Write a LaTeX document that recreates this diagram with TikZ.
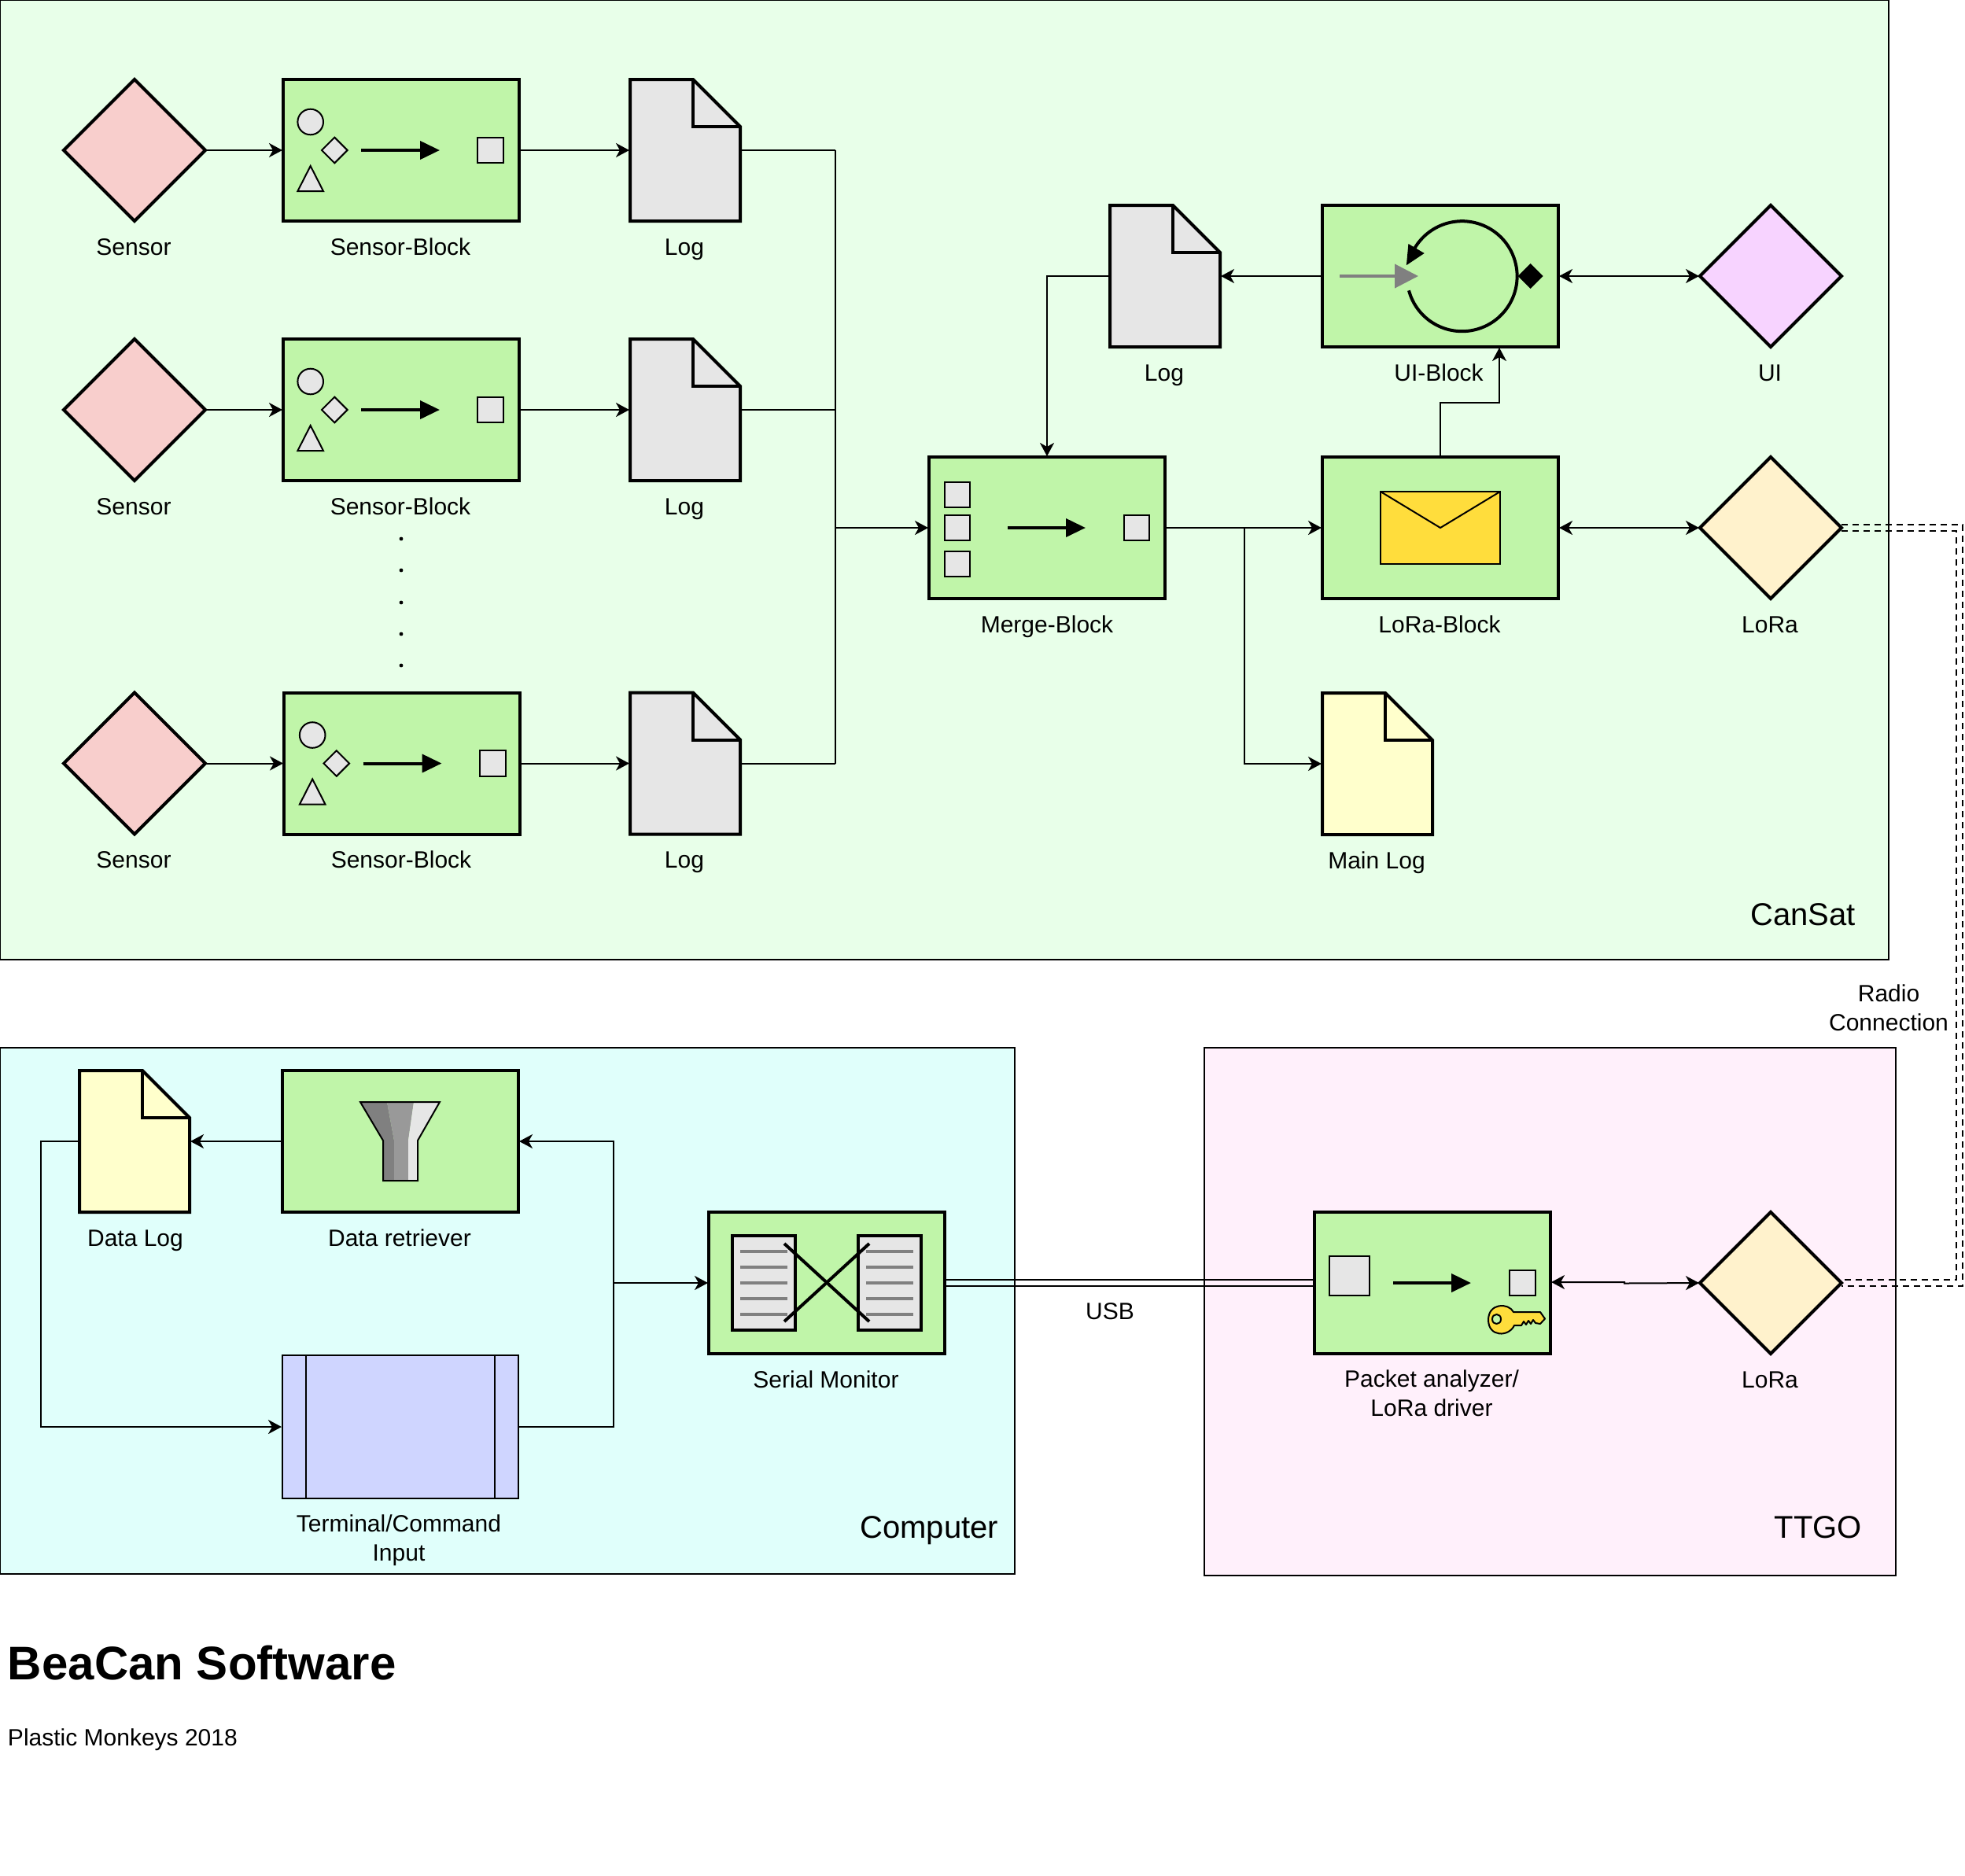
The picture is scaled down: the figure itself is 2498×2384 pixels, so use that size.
\documentclass[tikz,border=0pt]{standalone}
\usepackage{fontspec}
\setmainfont{Liberation Sans}
\usetikzlibrary{arrows.meta,shapes.geometric,calc}

\definecolor{canSatBack}{HTML}{E8FFE9}
\definecolor{computerBack}{HTML}{E0FFFB}
\definecolor{ttgoBack}{HTML}{FFF0FB}
\definecolor{blockGreen}{HTML}{C0F5A9}
\definecolor{sensorRed}{HTML}{F8CECC}
\definecolor{uiViolet}{HTML}{F7D3FF}
\definecolor{loraCream}{HTML}{FFF2CC}
\definecolor{iconGray}{HTML}{E6E6E6}
\definecolor{logYellow}{HTML}{FFFFCC}
\definecolor{terminalBlue}{HTML}{CFD5FF}
\definecolor{mailGold}{HTML}{FFDD3C}

\newcommand{\mainLineWidth}{1pt}
\newcommand{\boxLineWidth}{2pt}
\newcommand{\foldSize}{30pt}
\newcommand{\linkGap}{4}
\newcommand{\busX}{1062}
\newcommand{\splitX}{1582}
\newcommand{\computerBusX}{780}
\newcommand{\radioX}{2491}

\tikzset{
    every node/.style={font=\fontsize{15}{18.3}\selectfont, inner sep=0, outer sep=0},
    areabox/.style={draw, line width=\mainLineWidth},
    blockbox/.style={rectangle, draw, fill=blockGreen, line width=\boxLineWidth, minimum width=150pt, minimum height=90pt},
    diamondbox/.style={diamond, aspect=1, draw, line width=\boxLineWidth, minimum width=90pt, minimum height=90pt},
    docbox/.style={rectangle, minimum width=70pt, minimum height=90pt},
    caption/.style={anchor=base, align=center},
    arealabel/.style={font=\fontsize{20}{24}\selectfont},
    iconline/.style={draw=black, fill=iconGray, line width=\mainLineWidth},
    thickicon/.style={draw=black, fill=iconGray, line width=\boxLineWidth},
    flowarrow/.style={line width=\boxLineWidth, -{Triangle[length=12.5pt,width=11.5pt]}},
    conn/.style={line width=\mainLineWidth, -{Stealth[length=8.5pt,width=9pt,inset=2.5pt]}, shorten >=.5pt},
    bothconn/.style={line width=\mainLineWidth, {Stealth[length=8.5pt,width=9pt,inset=2.5pt]}-{Stealth[length=8.5pt,width=9pt,inset=2.5pt]}, shorten >=.5pt, shorten <=.5pt},
    plainconn/.style={line width=\mainLineWidth},
    radiolink/.style={line width=\mainLineWidth, dash pattern=on 4pt off 3pt}
}

% Document shape around an empty node
\newcommand{\docOutline}[2]{
    \filldraw [fill=#2, line width=\boxLineWidth, line join=miter]
        (#1.north west) -- ([xshift=-\foldSize]#1.north east) -- ([yshift=-\foldSize]#1.north east)
        -- (#1.south east) -- (#1.south west) -- cycle;
    \draw [line width=\boxLineWidth] ([xshift=-\foldSize]#1.north east) -- ([xshift=-\foldSize,yshift=-\foldSize]#1.north east) -- ([yshift=-\foldSize]#1.north east);
}

\begin{document}
\begin{tikzpicture}[x=0.5pt,y=-0.5pt]
    \useasboundingbox (0,0) rectangle (2498,2384);

    % Areas
    \node[areabox, fill=canSatBack, minimum width=1200.5pt, minimum height=610pt, anchor=north west] (canSatArea) at (0,0) {};
    \node[areabox, fill=computerBack, minimum width=645pt, minimum height=334.5pt, anchor=north west] (computerArea) at (0,1332) {};
    \node[areabox, fill=ttgoBack, minimum width=439.5pt, minimum height=335.5pt, anchor=north west] (ttgoArea) at (1531,1332) {};
    \node[arealabel, anchor=base east] (canSatLabel) at (2359,1176) {CanSat};
    \node[arealabel, anchor=base east] (computerLabel) at (1269,1955) {Computer};
    \node[arealabel, anchor=base east] (ttgoLabel) at (2367,1955) {TTGO};

    % Sensor rows
    \foreach \rowName/\rowY/\blockX/\iconX in {A/191/510/510, B/521/510/510, C/970.5/511/512.5} {
        \node[diamondbox, fill=sensorRed] (sensor\rowName) at (171,\rowY) {};
        \node[blockbox] (sensorBlock\rowName) at (\blockX,\rowY) {};
        \node[docbox] (log\rowName) at (871,\rowY) {};
        \docOutline{log\rowName}{iconGray}
        \node[caption] (sensorCaption\rowName) at (170,\rowY+133) {Sensor};
        \node[caption] (sensorBlockCaption\rowName) at (\blockX-1,\rowY+133) {Sensor-Block};
        \node[caption] (logCaption\rowName) at (870,\rowY+133) {Log};
        \begin{scope}[shift={(\iconX,\rowY)}]
            \path[iconline] (-115.3,-36) circle (8.15pt);
            \path[iconline] (-84.7,-16.3) -- (-68.4,0) -- (-84.7,16.3) -- (-101,0) -- cycle;
            \path[iconline] (-115.3,20) -- (-99,52) -- (-131.6,52) -- cycle;
            \path[iconline] (97,-16.3) rectangle (130,16.3);
            \draw[flowarrow] (-51,0) -- (49,0);
        \end{scope}
        \draw[conn] (sensor\rowName.east) -- (sensorBlock\rowName.west);
        \draw[conn] (sensorBlock\rowName.east) -- (log\rowName.west);
        \draw[plainconn] (log\rowName.east) -- (\busX,\rowY);
    }
    \draw[plainconn] (\busX,191) -- (\busX,970.5);
    \foreach \dotY in {685,725,766,806,846} {
        \fill (510,\dotY) circle (1.2pt);
    }

    % Merge block
    \node[blockbox] (mergeBlock) at (1331,671) {};
    \node[caption] (mergeCaption) at (1331,804) {Merge-Block};
    \path[iconline] (1201,613) rectangle (1233,645);
    \path[iconline] (1201,655) rectangle (1233,687);
    \path[iconline] (1201,701) rectangle (1233,733);
    \path[iconline] (1429,655) rectangle (1461,687);
    \draw[flowarrow] (1281,671) -- (1380,671);
    \draw[conn] (\busX,671) -- (mergeBlock.west);

    % UI block
    \node[blockbox] (uiBlock) at (1831,351) {};
    \node[caption] (uiCaption) at (1829,484) {UI-Block};
    \draw[line width=\boxLineWidth] (1791,369.3) arc (195:509:35pt);
    \fill (1787.9,337.2) -- (1790.4,310) -- (1810.7,322) -- cycle;
    \draw[line width=\boxLineWidth, gray, -{Triangle[length=15pt,width=15pt]}] (1703,351) -- (1803,351);
    \fill (1945.5,335) -- (1961.5,351) -- (1945.5,367) -- (1929.5,351) -- cycle;

    % LoRa block
    \node[blockbox] (loraBlock) at (1831,671) {};
    \node[caption] (loraCaption) at (1830,804) {LoRa-Block};
    \filldraw[fill=mailGold, line width=\mainLineWidth, line join=miter] (1755,625) rectangle (1907,717);
    \draw[line width=\mainLineWidth] (1755,625) -- (1831,671) -- (1907,625);

    % CanSat outputs
    \node[diamondbox, fill=uiViolet] (uiDiamond) at (2251,351) {};
    \node[caption] (uiDiamondCaption) at (2250,484) {UI};
    \node[diamondbox, fill=loraCream] (loraCan) at (2251,671) {};
    \node[caption] (loraCanCaption) at (2250,804) {LoRa};
    \node[docbox] (logUi) at (1481,351) {};
    \docOutline{logUi}{iconGray}
    \node[caption] (logUiCaption) at (1480,484) {Log};
    \node[docbox] (mainLog) at (1751,971) {};
    \docOutline{mainLog}{logYellow}
    \node[caption] (mainLogCaption) at (1750,1104) {Main Log};

    \draw[conn] (uiBlock.west) -- (logUi.east);
    \draw[conn] (logUi.west) -| (mergeBlock.north);
    \draw[conn] (loraBlock.north) |- (1906,512) -- (1906,441);
    \draw[conn] (mergeBlock.east) -- (loraBlock.west);
    \draw[conn] (\splitX,671) |- (mainLog.west);
    \draw[bothconn] (uiBlock.east) -- (uiDiamond.west);
    \draw[bothconn] (loraBlock.east) -- (loraCan.west);

    % Computer
    \node[blockbox] (retrieverBlock) at (509,1451) {};
    \node[caption] (retrieverCaption) at (508,1584) {Data retriever};
    \fill[gray] (458,1401) -- (492,1401) -- (501,1450) -- (501,1501) -- (487,1501) -- (487,1450) -- cycle;
    \fill[black!40] (492,1401) -- (526,1401) -- (519,1450) -- (519,1501) -- (501,1501) -- (501,1450) -- cycle;
    \fill[iconGray] (526,1401) -- (559,1401) -- (531,1450) -- (531,1501) -- (519,1501) -- (519,1450) -- cycle;
    \draw[line width=\mainLineWidth, line join=miter] (458,1401) -- (559,1401) -- (531,1450) -- (531,1501) -- (487,1501) -- (487,1450) -- cycle;

    \node[docbox] (dataLog) at (171,1451) {};
    \docOutline{dataLog}{logYellow}
    \node[caption] (dataLogCaption) at (172,1584) {Data Log};

    \node[rectangle, draw, fill=terminalBlue, line width=\mainLineWidth, minimum width=150pt, minimum height=91pt] (terminalBox) at (509,1814) {};
    \draw[line width=\mainLineWidth] (389,1723) -- (389,1905);
    \draw[line width=\mainLineWidth] (629,1723) -- (629,1905);
    \node[align=center] (terminalCaption) at (507,1958) {Terminal/Command\\Input};

    \node[blockbox] (serialBlock) at (1051,1631) {};
    \node[caption] (serialCaption) at (1050,1764) {Serial Monitor};
    \foreach \docLeft in {931,1091} {
        \path[thickicon] (\docLeft,1571) rectangle (\docLeft+80,1691);
        \foreach \lineY in {1591,1611,1631,1651,1671} {
            \draw[line width=\boxLineWidth, gray] (\docLeft+10,\lineY) -- (\docLeft+70,\lineY);
        }
    }
    \draw[line width=\boxLineWidth] (997,1581) -- (1105,1680);
    \draw[line width=\boxLineWidth] (997,1680) -- (1105,1581);

    \draw[conn] (retrieverBlock.west) -- (dataLog.east);
    \draw[conn] (dataLog.west) -- (52,1451) |- (terminalBox.west);
    \draw[conn] (terminalBox.east) -| (\computerBusX,1451) -- (retrieverBlock.east);
    \draw[conn] (\computerBusX,1631) -- (serialBlock.west);

    % TTGO
    \node[blockbox] (packetBlock) at (1821,1631) {};
    \node[align=center] (packetCaption) at (1820,1771) {Packet analyzer/\\LoRa driver};
    \path[iconline] (1690,1597) rectangle (1741,1647);
    \path[iconline] (1919,1615) rectangle (1952,1647);
    \draw[flowarrow] (1771,1631) -- (1870,1631);
    \filldraw[fill=mailGold, line width=\mainLineWidth, line join=round, even odd rule]
        (1924,1668) .. controls (1918,1656) and (1892,1656) .. (1892,1678)
        .. controls (1892,1700) and (1918,1700) .. (1925,1685) -- (1934,1685) -- (1937,1680) -- (1940,1684)
        -- (1943,1679) -- (1946,1683) -- (1949,1678) -- (1952,1682) -- (1958,1683) -- (1964,1676.5) -- (1958,1668) -- cycle
        (1908,1677) .. controls (1908,1669) and (1897,1669) .. (1897,1677) .. controls (1897,1685) and (1908,1685) .. (1908,1677) -- cycle;
    \node[diamondbox, fill=loraCream] (loraTtgo) at (2251,1631) {};
    \node[caption] (loraTtgoCaption) at (2250,1764) {LoRa};
    \draw[bothconn] ([yshift=.5pt]packetBlock.east) -- ++(94,0) -- ++(0,1.5) -- (loraTtgo.west);

    % USB and radio links
    \draw[plainconn] ($(serialBlock.east)+(0,-\linkGap)$) -- ($(packetBlock.west)+(0,-\linkGap)$);
    \draw[plainconn] ($(serialBlock.east)+(0,\linkGap)$) -- ($(packetBlock.west)+(0,\linkGap)$);
    \node (usbLabel) at (1411,1667) {USB};
    \draw[radiolink] ($(loraCan.east)+(0,-\linkGap)$) -- (\radioX+\linkGap,671-\linkGap) -- (\radioX+\linkGap,1631+\linkGap) -- ($(loraTtgo.east)+(0,\linkGap)$);
    \draw[radiolink] ($(loraCan.east)+(0,\linkGap)$) -- (\radioX-\linkGap,671+\linkGap) -- (\radioX-\linkGap,1631-\linkGap) -- ($(loraTtgo.east)+(0,-\linkGap)$);
    \node[align=center] (radioLabel) at (2401,1281) {Radio\\Connection};

    % Title
    \node[anchor=base west, font=\fontsize{30}{36}\selectfont\bfseries] (titleText) at (10,2135) {BeaCan Software};
    \node[anchor=base west] (subtitleText) at (10,2219) {Plastic Monkeys 2018};
\end{tikzpicture}
\end{document}
